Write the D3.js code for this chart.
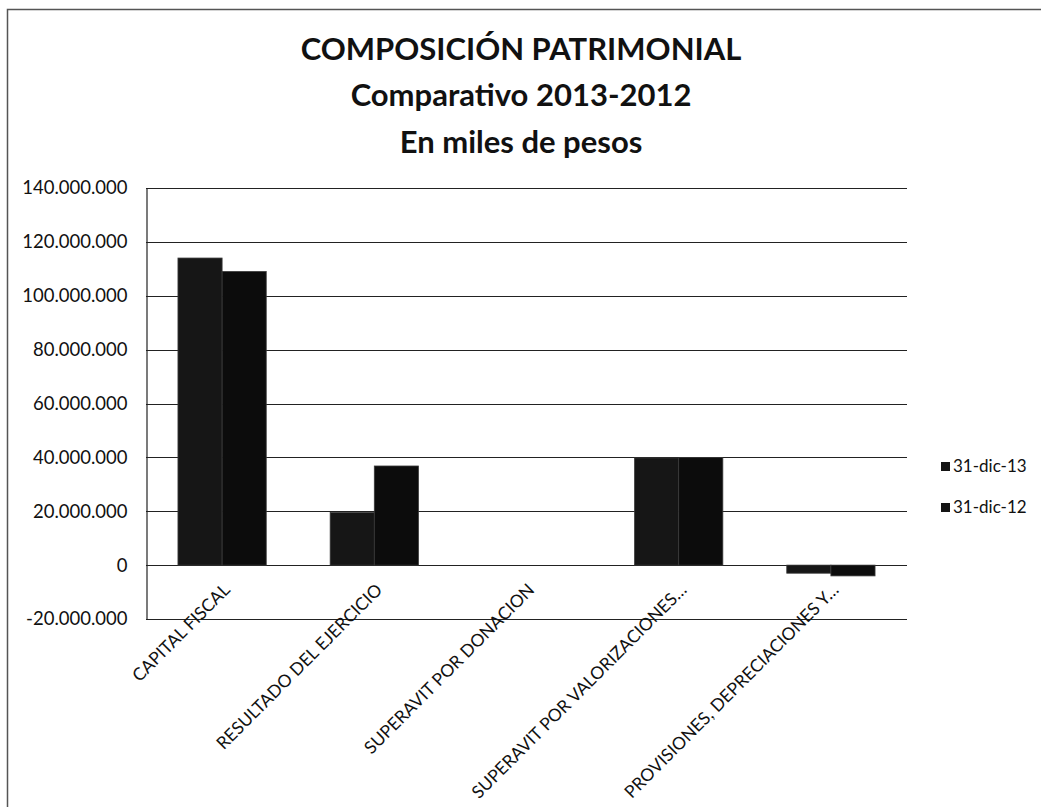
<!DOCTYPE html>
<html>
<head>
<meta charset="utf-8">
<script src="https://cdn.jsdelivr.net/npm/d3@7"></script>
<style>
  body { margin: 0; background: #fff; }
  text { font-family: Lato, "Open Sans", sans-serif; fill: #111; }
</style>
</head>
<body>
<script>
const categories = ["CAPITAL FISCAL", "RESULTADO DEL EJERCICIO", "SUPERAVIT POR DONACION",
    "SUPERAVIT POR VALORIZACIONES…", "PROVISIONES, DEPRECIACIONES Y…"];
const seriesNames = ["31-dic-13", "31-dic-12"];
const dic13 = [114000000, 19500000, 0, 39800000, -3000000];
const dic12 = [109000000, 36800000, 0, 39900000, -4000000];
const yTicks = [-20000000, 0, 20000000, 40000000, 60000000, 80000000, 100000000, 120000000, 140000000];
const titleLines = ["COMPOSICIÓN PATRIMONIAL", "Comparativo 2013-2012", "En miles de pesos"];

const width = 1041,
    height = 807;

const svg = d3.select("body").append("svg")
    .attr("width", width)
    .attr("height", height);

// outer chart frame (only left/top visible in the scan)
svg.append("path")
    .attr("d", "M7.5,807 V9.5 H1041")
    .attr("fill", "none")
    .attr("stroke", "#555")
    .attr("stroke-width", 1.5);

const plot = {left: 146, right: 907, top: 188, bottom: 619};

const locale = d3.formatLocale({decimal: ",", thousands: ".", grouping: [3], currency: ["$", ""], minus: "-"});
const fmt = locale.format(",");

const y = d3.scaleLinear()
    .domain([-20000000, 140000000])
    .range([plot.bottom, plot.top]);

const x0 = d3.scaleBand()
    .domain(categories)
    .range([plot.left, plot.right])
    .paddingInner(0.42)
    .paddingOuter(0.21);

const x1 = d3.scaleBand()
    .domain(seriesNames)
    .range([0, x0.bandwidth()]);

// title
svg.append("g").selectAll("text")
    .data(titleLines)
    .enter().append("text")
    .attr("x", 521)
    .attr("y", (d, i) => [60, 106, 153][i])
    .attr("text-anchor", "middle")
    .style("font-weight", "bold")
    .style("font-size", "31px")
    .text(d => d);

// gridlines
svg.append("g").selectAll("line")
    .data(yTicks)
    .enter().append("line")
    .attr("x1", plot.left)
    .attr("x2", plot.right)
    .attr("y1", d => Math.round(y(d)) + 0.5)
    .attr("y2", d => Math.round(y(d)) + 0.5)
    .attr("stroke", "#222")
    .attr("stroke-width", 1.2);

// y axis
const yAxis = svg.append("g")
    .attr("transform", `translate(${plot.left + 0.5},0)`)
    .call(d3.axisLeft(y).tickValues(yTicks).tickFormat(fmt).tickSize(0).tickPadding(19));
yAxis.select(".domain").attr("stroke", "#222").attr("stroke-width", 1.2);
yAxis.selectAll("text")
    .style("font-size", "18.5px")
    .style("font-family", "Lato, sans-serif")
    .attr("fill", "#111");

// bars
const rows = categories.map((c, i) => ({cat: c, values: [dic13[i], dic12[i]]}));

const groups = svg.append("g").selectAll("g")
    .data(rows)
    .enter().append("g")
    .attr("transform", d => `translate(${x0(d.cat)},0)`);

groups.selectAll("rect")
    .data(d => d.values.map((v, j) => ({key: seriesNames[j], value: v})))
    .enter().append("rect")
    .attr("x", d => x1(d.key))
    .attr("width", x1.bandwidth())
    .attr("y", d => y(Math.max(0, d.value)))
    .attr("height", d => Math.abs(y(d.value) - y(0)))
    .attr("fill", (d, j) => j === 0 ? "#161616" : "#0c0c0c")
    .attr("stroke", "#3a3a3a")
    .attr("stroke-width", 0.8);

// category labels, rotated
svg.append("g").selectAll("text")
    .data(categories)
    .enter().append("text")
    .attr("transform", d => `translate(${x0(d) + x0.bandwidth() / 2 + 9},${plot.bottom - 28}) rotate(-45)`)
    .attr("text-anchor", "end")
    .style("font-size", "17.5px")
    .text(d => d);

// legend
const legend = svg.append("g")
    .attr("transform", "translate(941,462)");

const pairs = legend.selectAll(".pairs")
    .data(seriesNames)
    .enter().append("g")
    .attr("class", "pairs")
    .attr("transform", (d, i) => `translate(0,${i * 41})`);

pairs.append("rect")
    .attr("width", 9)
    .attr("height", 9)
    .attr("fill", "#141414");

pairs.append("text")
    .attr("x", 12)
    .attr("y", 10)
    .style("font-size", "17px")
    .text(d => d);
</script>
</body>
</html>
